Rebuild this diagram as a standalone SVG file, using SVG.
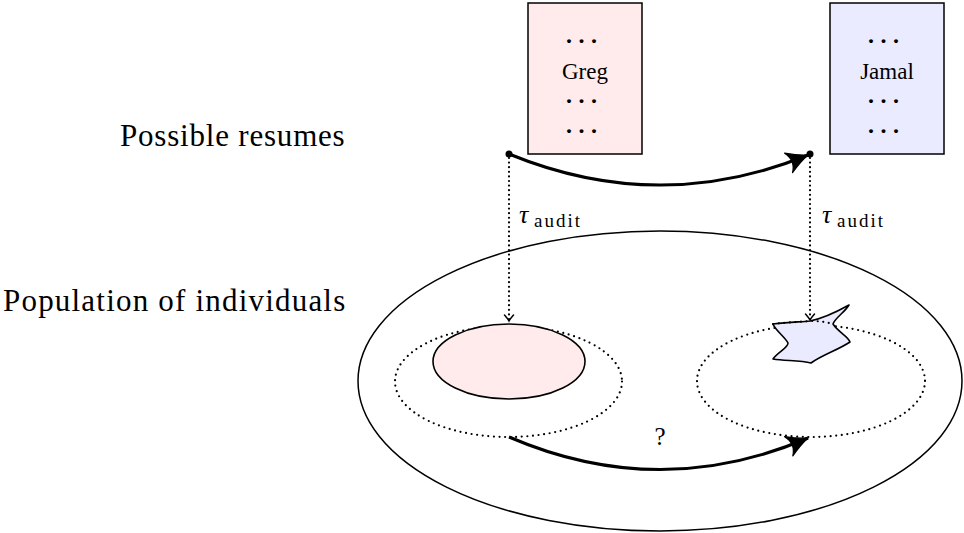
<svg xmlns="http://www.w3.org/2000/svg" width="964" height="533" viewBox="0 0 964 533">
<style>
text{font-family:"Liberation Serif","DejaVu Serif","Noto Serif",serif;fill:#000}
.lbl{font-size:31px}
.name{font-size:23px}
.dots{font-size:24px;font-weight:bold}
.tau{font-size:26px;font-style:italic}
.sub{font-size:19px;letter-spacing:2px}
.box{stroke:#000;stroke-width:1.5}
.thick{fill:none;stroke:#000;stroke-width:3}
.dotline{fill:none;stroke:#000;stroke-width:2.2;stroke-dasharray:0 4.6;stroke-linecap:round}
.dotell{fill:none;stroke:#000;stroke-width:2.2;stroke-dasharray:0 5.6;stroke-linecap:round}
</style>
<defs>
<marker id="big" markerUnits="userSpaceOnUse" orient="auto" markerWidth="30" markerHeight="30" refX="0" refY="0" viewBox="-16 -10 20 20" overflow="visible">
<path d="M0,0 Q-6,-2 -14,-7 Q-9,0 -14,7 Q-6,2 0,0 Z" fill="#000" stroke="#000" stroke-width="0.8" stroke-linejoin="round"/>
</marker>
<marker id="small" markerUnits="userSpaceOnUse" orient="auto" markerWidth="20" markerHeight="20" refX="0" refY="0" viewBox="-10 -10 20 20" overflow="visible">
<path d="M-6,-4.5 Q-2,-1 0,0 Q-2,1 -6,4.5" fill="none" stroke="#000" stroke-width="1.5" stroke-linecap="round"/>
</marker>
</defs>

<g id="label-resumes"><text class="lbl" x="120" y="146" style="letter-spacing:0.8px">Possible resumes</text></g>
<g id="label-population"><text class="lbl" x="3" y="311" style="letter-spacing:1.2px">Population of individuals</text></g>

<g id="population">
<ellipse cx="660" cy="381" rx="302" ry="150" fill="none" stroke="#000" stroke-width="1.5"/>
</g>

<g id="greg">
<rect class="box" x="528" y="3" width="114" height="151" fill="#ffebeb"/>
<text class="dots" x="566" y="43" textLength="31" lengthAdjust="spacing">. . .</text>
<text class="name" x="585" y="79" text-anchor="middle">Greg</text>
<text class="dots" x="566" y="103" textLength="31" lengthAdjust="spacing">. . .</text>
<text class="dots" x="566" y="133" textLength="31" lengthAdjust="spacing">. . .</text>
</g>

<g id="jamal">
<rect class="box" x="830" y="3" width="114" height="151" fill="#ebebff"/>
<text class="dots" x="868" y="43" textLength="31" lengthAdjust="spacing">. . .</text>
<text class="name" x="887" y="79" text-anchor="middle">Jamal</text>
<text class="dots" x="868" y="103" textLength="31" lengthAdjust="spacing">. . .</text>
<text class="dots" x="868" y="133" textLength="31" lengthAdjust="spacing">. . .</text>
</g>

<g id="greg-region">
<ellipse class="dotell" cx="508.5" cy="381.5" rx="113.5" ry="55.5"/>
<ellipse cx="509" cy="361.5" rx="76" ry="37.5" fill="#ffebeb" stroke="#000" stroke-width="1.6"/>
</g>

<g id="jamal-region">
<ellipse class="dotell" cx="811" cy="381" rx="114" ry="56"/>
<path d="M773,324 C790,322 800,322 810,321 C825,318 840,310 849,305 C845,312 835,318 833,324 C838,332 848,336 850,342 C838,350 822,355 811,363 C800,360 785,361 773,359 C778,352 788,348 788,343 C785,337 775,330 773,324 Z" fill="#ebebff" stroke="#000" stroke-width="1.6" stroke-linejoin="round"/>
<path class="dotell" d="M773,324 C790,322 800,322 810,321 C820,321 826,322 833,324"/>
</g>

<g id="connectors">
<circle cx="509" cy="154" r="3.5" fill="#000"/>
<circle cx="810" cy="154" r="3.5" fill="#000"/>
<path class="thick" d="M509,154 C609,195 710,195 808,155" marker-end="url(#big)"/>
<path class="dotline" d="M509,158 L509,321" marker-end="url(#small)"/>
<path class="dotline" d="M810,158 L810,320" marker-end="url(#small)"/>
<path class="thick" d="M509,437 C609,480 710,480 808,438" marker-end="url(#big)"/>
</g>

<g id="labels">
<text class="tau" x="519" y="223">τ</text>
<text class="sub" x="534" y="227">audit</text>
<text class="tau" x="822" y="223">τ</text>
<text class="sub" x="837" y="227">audit</text>
<text class="name" x="660" y="445" text-anchor="middle" style="font-size:25px">?</text>
</g>
</svg>
